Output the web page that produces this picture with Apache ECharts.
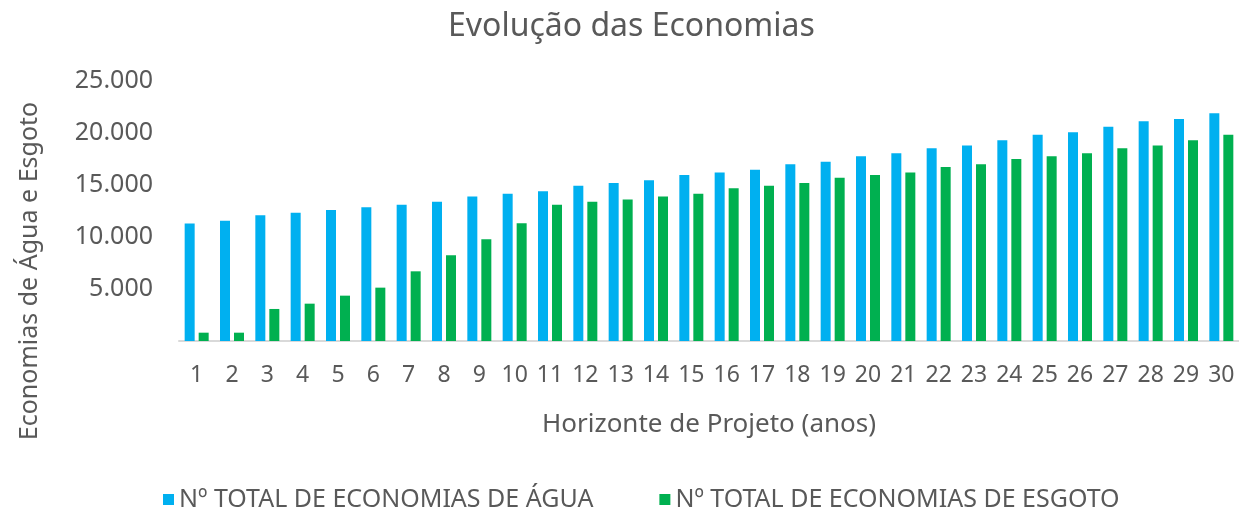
<!DOCTYPE html>
<html>
<head>
<meta charset="utf-8">
<script src="https://cdn.jsdelivr.net/npm/echarts@6/dist/echarts.min.js"></script>
<style>
	html, body { margin: 0; padding: 0; background: #fff; }
	#chart { width: 1239px; height: 508px; }
</style>
</head>
<body>
<div id="chart"></div>
<script>
// anos do horizonte de projeto
var anos = ['1','2','3','4','5','6','7','8','9','10','11','12','13','14','15',
	'16','17','18','19','20','21','22','23','24','25','26','27','28','29','30'];

var economiasAgua = [11300, 11570, 12080, 12340, 12600, 12850, 13100, 13400, 13900, 14160,
	14400, 14930, 15200, 15450, 15960, 16200, 16470, 16990, 17240, 17760,
	18050, 18530, 18800, 19300, 19840, 20070, 20600, 21130, 21350, 21900];

var economiasEsgoto = [800, 800, 3080, 3590, 4360, 5130, 6700, 8240, 9780, 11320,
	13100, 13400, 13600, 13900, 14160, 14680, 14930, 15200, 15700, 15960,
	16200, 16730, 17000, 17500, 17760, 18050, 18530, 18800, 19300, 19840];

var nomesSeries = ['Nº TOTAL DE ECONOMIAS DE ÁGUA', 'Nº TOTAL DE ECONOMIAS DE ESGOTO'];

var fonte = '"Noto Sans", sans-serif';
var cinza = '#595959';

var myChart = echarts.init(document.getElementById('chart'));

var option = {
	animation: false,
	title: {
		text: 'Evolução das Economias',
		left: 443,
		top: 6,
		textStyle: {
			color: cinza,
			fontFamily: fonte,
			fontSize: 32,
			fontWeight: 'normal'
		}
	},
	legend: {
		top: 482,
		left: 158,
		itemGap: 66,
		itemWidth: 11,
		itemHeight: 11,
		icon: 'rect',
		data: nomesSeries,
		textStyle: {
			color: cinza,
			fontFamily: fonte,
			fontSize: 25
		}
	},
	grid: {
		left: 179,
		right: 0,
		top: 81,
		bottom: 167,
		containLabel: false
	},
	xAxis: {
		type: 'category',
		data: anos,
		name: 'Horizonte de Projeto (anos)',
		nameLocation: 'middle',
		nameGap: 71,
		nameTextStyle: {
			color: cinza,
			fontFamily: fonte,
			fontSize: 26
		},
		axisLine: {
			lineStyle: { color: '#d9d9d9', width: 2 }
		},
		axisTick: { show: false },
		axisLabel: {
			color: cinza,
			fontFamily: fonte,
			fontSize: 23,
			margin: 23,
			interval: 0
		}
	},
	yAxis: {
		type: 'value',
		min: 0,
		max: 25000,
		interval: 5000,
		axisLine: { show: false },
		axisTick: { show: false },
		splitLine: { show: false },
		axisLabel: {
			color: cinza,
			fontFamily: fonte,
			fontSize: 25,
			margin: 26,
			formatter: function (v) {
				if (v === 0) return '';
				return (v / 1000) + '.000';
			}
		}
	},
	graphic: [{
		type: 'text',
		x: 30,
		y: 271,
		rotation: Math.PI / 2,
		style: {
			text: 'Economias de Água e Esgoto',
			fill: cinza,
			font: '25px "Noto Sans", sans-serif',
			align: 'center',
			verticalAlign: 'middle'
		}
	}],
	series: [{
		type: 'bar',
		name: nomesSeries[0],
		data: economiasAgua,
		barWidth: 10,
		barGap: '40%',
		itemStyle: { color: '#00b0f0' }
	}, {
		type: 'bar',
		name: nomesSeries[1],
		data: economiasEsgoto,
		barWidth: 10,
		barGap: '40%',
		itemStyle: { color: '#00b050' }
	}]
};

myChart.setOption(option);
</script>
</body>
</html>
